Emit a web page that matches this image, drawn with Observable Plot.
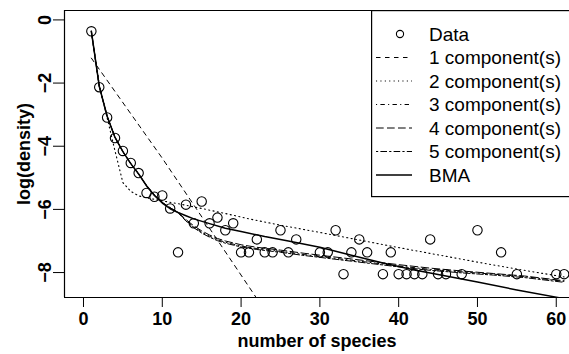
<!DOCTYPE html>
<html><head><meta charset="utf-8">
<script src="https://cdn.jsdelivr.net/npm/d3@7"></script>
<script src="https://cdn.jsdelivr.net/npm/@observablehq/plot@0.6"></script>
<style>
body{margin:0;background:#fff;}
#wrap{position:relative;width:569px;height:354px;overflow:hidden;font-family:"Liberation Sans",Arial,sans-serif;}
#legend{position:absolute;left:371px;top:10px;}
</style></head><body><div id="wrap"></div>
<script>
// ---- data ----
const species = [1,2,3,4,5,6,7,8,9,10,11,12,13,14,15,16,17,18,19,20,21,22,23,24,25,26,27,30,31,32,33,34,35,36,38,39,40,41,42,43,44,45,46,48,50,53,55,60,61];
const logDensity = [-0.36,-2.13,-3.09,-3.74,-4.15,-4.53,-4.85,-5.48,-5.60,-5.56,-5.97,-7.36,-5.85,-6.44,-5.75,-6.44,-6.26,-6.66,-6.44,-7.36,-7.36,-6.95,-7.36,-7.36,-6.66,-7.36,-6.95,-7.36,-7.36,-6.66,-8.05,-7.36,-6.95,-7.36,-8.05,-7.36,-8.05,-8.05,-8.05,-8.05,-6.95,-8.05,-8.05,-8.05,-6.66,-7.36,-8.05,-8.05,-8.05];

const comp1X = [1, 10, 21.4, 23];
const comp1Y = [-1.21, -4.38, -8.60, -9.2];

const comp2X = [1,2,3,4,5,6,7,8,9,10,12,15,18,21,25,30,35,40,45,50,55,61];
const comp2Y = [-0.38,-2.05,-3.10,-4.15,-5.15,-5.43,-5.57,-5.64,-5.68,-5.73,-5.82,-5.97,-6.13,-6.30,-6.50,-6.73,-6.97,-7.21,-7.44,-7.67,-7.89,-8.14];

const compX = [1,2,3,4,5,6,7,8,9,10,11,12,13,14,15,16,17,18,19,20,22,25,28,31,34,37,40,44,48,52,56,61];
const comp3Y = [-0.36,-2.10,-3.05,-3.72,-4.17,-4.55,-4.88,-5.25,-5.55,-5.78,-5.95,-6.10,-6.35,-6.55,-6.72,-6.85,-6.96,-7.04,-7.10,-7.16,-7.24,-7.33,-7.43,-7.52,-7.61,-7.70,-7.79,-7.90,-7.98,-8.05,-8.13,-8.28];
const comp4Y = [-0.36,-2.10,-3.05,-3.72,-4.17,-4.55,-4.88,-5.25,-5.55,-5.78,-5.95,-6.10,-6.32,-6.52,-6.68,-6.81,-6.92,-7.00,-7.06,-7.12,-7.20,-7.29,-7.39,-7.48,-7.57,-7.66,-7.75,-7.86,-7.95,-8.03,-8.11,-8.26];
const comp5Y = [-0.36,-2.10,-3.05,-3.72,-4.17,-4.55,-4.88,-5.25,-5.55,-5.78,-5.95,-6.10,-6.37,-6.58,-6.75,-6.88,-6.99,-7.07,-7.13,-7.19,-7.27,-7.36,-7.46,-7.55,-7.64,-7.73,-7.82,-7.93,-8.01,-8.08,-8.16,-8.31];

const bmaX = [1,2,3,4,5,6,7,8,9,10,11,12,13,14,16,18,20,23,26,30,34,38,42,45,50,55,60,61];
const bmaY = [-0.36,-2.10,-3.05,-3.72,-4.17,-4.55,-4.88,-5.25,-5.56,-5.80,-5.98,-6.10,-6.20,-6.30,-6.45,-6.60,-6.70,-6.86,-7.00,-7.20,-7.45,-7.70,-7.92,-8.06,-8.30,-8.55,-8.78,-8.83];

const legendLabels = ["Data","1 component(s)","2 component(s)","3 component(s)","4 component(s)","5 component(s)","BMA"];
const xTicks = [0,10,20,30,40,50,60];
const yTicks = [0,-2,-4,-6,-8];
const xDomain = [-2.41, 61.68];
const yDomain = [-8.79, 0.298];

// ---- build ----
const series = [
  {x: comp1X, y: comp1Y, dash: "4.5,4.5", w: 1},
  {x: comp2X, y: comp2Y, dash: "1.1,3.3", w: 1.1},
  {x: compX, y: comp3Y, dash: "1.1,3.3,4.4,3.3", w: 1},
  {x: compX, y: comp4Y, dash: "7.7,3.3", w: 1},
  {x: compX, y: comp5Y, dash: "2.2,2.2,6.6,2.2", w: 1},
  {x: bmaX, y: bmaY, dash: null, w: 1.5}
];
const lineMarks = series.map(s => Plot.line(s.x.map((x, i) => ({x, y: s.y[i]})), {
  x: "x", y: "y", stroke: "black", strokeWidth: s.w, strokeDasharray: s.dash, clip: true
}));
const points = species.map((x, i) => ({x, y: logDensity[i]}));

const chart = Plot.plot({
  width: 569, height: 354,
  marginLeft: 64, marginRight: 0, marginTop: 10, marginBottom: 57,
  style: {fontFamily: "Liberation Sans, Arial, sans-serif", fontSize: "18px", background: "white", color: "black"},
  x: {domain: xDomain},
  y: {domain: yDomain},
  marks: [
    Plot.ruleX([xDomain[0]], {stroke: "black", strokeWidth: 1.2}),
    Plot.ruleY(yDomain, {stroke: "black", strokeWidth: 1.2}),
    Plot.axisX(xTicks, {tickSize: 10, tickPadding: 5, fontWeight: "bold", fontSize: 18, label: null}),
    Plot.axisY(yTicks, {tickSize: 11, tickPadding: 3, tickRotate: -90, fontWeight: "bold", fontSize: 18, label: null}),
    ...lineMarks,
    Plot.dot(points, {x: "x", y: "y", r: 4.7, stroke: "black", strokeWidth: 1.1, fill: "none"}),
    Plot.text(["number of species"], {frameAnchor: "bottom", dy: 49, fontWeight: "bold", fontSize: 18}),
    Plot.text(["log(density)"], {frameAnchor: "left", textAnchor: "middle", dx: -40, rotate: -90, fontWeight: "bold", fontSize: 18})
  ]
});
document.getElementById("wrap").appendChild(chart);

// legend
const lg = d3.select("#wrap").append("svg").attr("id", "legend").attr("width", 200).attr("height", 188)
  .style("font-family", "Liberation Sans, Arial, sans-serif");
lg.append("rect").attr("x", 0.6).attr("y", 0.6).attr("width", 230).attr("height", 186).attr("fill", "white").attr("stroke", "black").attr("stroke-width", 1.2);
legendLabels.forEach((lab, i) => {
  const y = 24 + i * 23.5;
  if (i === 0) {
    lg.append("circle").attr("cx", 29).attr("cy", y).attr("r", 3.6).attr("fill", "none").attr("stroke", "black").attr("stroke-width", 1.1);
  } else {
    const s = series[i - 1];
    lg.append("line").attr("x1", 5).attr("x2", 41).attr("y1", y).attr("y2", y)
      .attr("stroke", "black").attr("stroke-width", s.w).attr("stroke-dasharray", s.dash);
  }
  lg.append("text").attr("x", 58).attr("y", y).attr("dy", "0.35em").attr("font-size", 19).text(lab);
});
</script></body></html>
